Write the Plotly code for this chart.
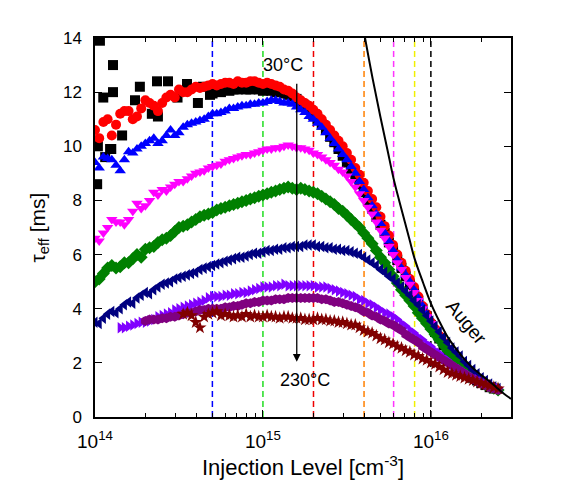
import math
import plotly.graph_objects as go

# Injection level grid (cm^-3), 40 points per decade
inj = [1.000e14, 1.059e14, 1.122e14, 1.189e14, 1.259e14, 1.334e14, 1.413e14, 1.496e14, 1.585e14, 1.679e14,
       1.778e14, 1.884e14, 1.995e14, 2.113e14, 2.239e14, 2.371e14, 2.512e14, 2.661e14, 2.818e14, 2.985e14,
       3.162e14, 3.350e14, 3.548e14, 3.758e14, 3.981e14, 4.217e14, 4.467e14, 4.732e14, 5.012e14, 5.309e14,
       5.623e14, 5.957e14, 6.310e14, 6.683e14, 7.079e14, 7.499e14, 7.943e14, 8.414e14, 8.913e14, 9.441e14,
       1.000e15, 1.059e15, 1.122e15, 1.189e15, 1.259e15, 1.334e15, 1.413e15, 1.496e15, 1.585e15, 1.679e15,
       1.778e15, 1.884e15, 1.995e15, 2.113e15, 2.239e15, 2.371e15, 2.512e15, 2.661e15, 2.818e15, 2.985e15,
       3.162e15, 3.350e15, 3.548e15, 3.758e15, 3.981e15, 4.217e15, 4.467e15, 4.732e15, 5.012e15, 5.309e15,
       5.623e15, 5.957e15, 6.310e15, 6.683e15, 7.079e15, 7.499e15, 7.943e15, 8.414e15, 8.913e15, 9.441e15,
       1.000e16, 1.059e16, 1.122e16, 1.189e16, 1.259e16, 1.334e16, 1.413e16, 1.496e16, 1.585e16, 1.679e16,
       1.778e16, 1.884e16, 1.995e16, 2.113e16, 2.239e16, 2.371e16, 2.512e16]

# black squares: scattered points at low injection, then a dense band on the grid
black_scatter_n = [1.03e14, 1.03e14, 1.04e14, 1.07e14, 1.12e14, 1.15e14, 1.23e14, 1.25e14, 1.28e14, 1.28e14,
                   1.45e14, 1.73e14, 1.85e14, 2.18e14, 2.34e14, 2.37e14, 2.72e14, 3.10e14, 3.53e14, 4.10e14,
                   4.39e14, 4.84e14]
black_scatter_tau = [8.6, 10.05, 10.0, 13.9, 11.8, 9.6, 9.9, 9.9, 12.0, 13.0,
                     10.4, 11.7, 12.2, 11.2, 12.4, 11.1, 12.4, 11.8, 12.3, 11.6,
                     12.2, 11.9]
black_band_tau = [11.95, 12.05, 12.0, 12.1, 12.05, 12.1, 12.1, 12.15, 12.1, 12.1, 12.15, 12.1,
                  12.05, 12.1, 12.05, 12.0, 12.0, 11.95, 11.9, 11.85, 11.75, 11.6, 11.5, 11.35, 11.15, 11.0,
                  10.8, 10.6, 10.35, 10.15, 9.9, 9.65,
                  9.4, 9.15, 8.85, 8.6, 8.3, 8.0, 7.7, 7.4, 7.1, 6.8, 6.45, 6.15, 5.8, 5.5, 5.2, 4.9,
                  4.6, 4.3, 4.0, 3.7,
                  3.4, 3.15, 2.9, 2.65, 2.45, 2.25, 2.05, 1.9, 1.75, 1.6, 1.45, 1.35, 1.25, 1.18, 1.1, 1.05]

red_tau = [10.6, 10.3, 10.9, 11.0, 10.4, 10.8, 11.2, 11.3, 11.3, 11.0, 11.1, 11.4, 11.7, 11.6, 11.5, 11.3, 11.6, 11.8, 11.9, 11.8,
           12.1, 12.0, 12.0, 12.1, 12.2, 12.15, 12.2, 12.25, 12.3, 12.25, 12.3, 12.35, 12.35, 12.3, 12.4, 12.35, 12.35, 12.4, 12.4, 12.35,
           12.3, 12.35, 12.3, 12.25, 12.2, 12.1, 12.05, 11.95, 11.8, 11.7, 11.6, 11.5, 11.35, 11.2, 11.0, 10.8, 10.6, 10.4, 10.2, 10.0,
           9.75, 9.5, 9.2, 8.95, 8.65, 8.35, 8.05, 7.75, 7.4, 7.05, 6.7, 6.35, 6.0, 5.7, 5.4, 5.1, 4.8, 4.45, 4.1, 3.8,
           3.5, 3.25, 3.0, 2.75, 2.5, 2.3, 2.1, 1.95, 1.8, 1.65, 1.5, 1.38, 1.25, 1.18, 1.1, 1.05, 1.0]

blue_tau = [9.4, 9.2, 9.6, 9.55, 9.5, 9.3, 9.1, 9.5, 9.8, 9.75, 9.9, 10.0, 10.1, 10.2, 10.3, 10.1, 10.2, 10.4, 10.6, 10.4,
            10.5, 10.7, 10.8, 10.85, 10.9, 10.95, 11.0, 11.1, 11.2, 11.2, 11.25, 11.3, 11.4, 11.4, 11.45, 11.5, 11.5, 11.55, 11.55, 11.6,
            11.6, 11.65, 11.7, 11.7, 11.65, 11.6, 11.6, 11.55, 11.45, 11.35, 11.25, 11.1, 11.0, 10.85, 10.7, 10.5, 10.3, 10.1, 9.9, 9.7,
            9.5, 9.25, 9.0, 8.7, 8.4, 8.1, 7.8, 7.5, 7.15, 6.8, 6.5, 6.15, 5.8, 5.5, 5.25, 5.0, 4.7, 4.4, 4.1, 3.8,
            3.5, 3.25, 3.0, 2.75, 2.5, 2.3, 2.1, 1.95, 1.8, 1.65, 1.5, 1.4, 1.3, 1.2, 1.12, 1.06, 1.0]

magenta_tau = [6.6, 6.5, 6.8, 7.0, 7.3, 7.2, 7.2, 7.1, 7.3, 7.6, 7.9, 7.7, 7.8, 8.0, 8.3, 8.2, 8.4, 8.35, 8.5, 8.6,
               8.7, 8.7, 8.8, 8.9, 9.0, 9.05, 9.1, 9.2, 9.25, 9.3, 9.35, 9.45, 9.5, 9.55, 9.6, 9.65, 9.7, 9.7, 9.75, 9.8,
               9.85, 9.9, 9.9, 9.95, 9.95, 10.0, 10.05, 10.0, 9.95, 9.95, 9.9, 9.85, 9.75, 9.7, 9.6, 9.5, 9.4, 9.3, 9.15, 9.05,
               8.9, 8.7, 8.5, 8.25, 8.0, 7.75, 7.5, 7.2, 6.9, 6.6, 6.3, 6.0, 5.7, 5.45, 5.15, 4.9, 4.6, 4.3, 4.0, 3.7,
               3.45, 3.2, 2.95, 2.7, 2.5, 2.3, 2.1, 1.95, 1.8, 1.65, 1.5, 1.4, 1.3, 1.2, 1.12, 1.06, 1.0]

green_tau = [5.0, 5.1, 5.3, 5.5, 5.6, 5.5, 5.55, 5.7, 5.7, 5.85, 6.0, 5.9, 6.2, 6.25, 6.3, 6.45, 6.55, 6.6, 6.7, 6.85,
             7.0, 7.05, 7.1, 7.2, 7.3, 7.4, 7.45, 7.5, 7.55, 7.65, 7.7, 7.75, 7.8, 7.85, 7.9, 7.95, 8.0, 8.05, 8.1, 8.15,
             8.2, 8.25, 8.3, 8.35, 8.4, 8.45, 8.5, 8.45, 8.4, 8.45, 8.4, 8.35, 8.3, 8.25, 8.15, 8.05, 7.95, 7.85, 7.7, 7.6,
             7.45, 7.3, 7.15, 7.0, 6.8, 6.6, 6.4, 6.15, 5.9, 5.7, 5.45, 5.2, 4.95, 4.7, 4.5, 4.3, 4.1, 3.85, 3.65, 3.45,
             3.25, 3.05, 2.85, 2.65, 2.45, 2.3, 2.1, 1.95, 1.75, 1.62, 1.5, 1.4, 1.3, 1.2, 1.12, 1.06, 1.0]

navy_tau = [3.5, 3.45, 3.65, 3.8, 3.9, 3.85, 4.0, 4.15, 4.25, 4.2, 4.4, 4.5, 4.6, 4.55, 4.7, 4.8, 4.9, 4.95, 5.0, 5.1,
            5.15, 5.2, 5.25, 5.3, 5.35, 5.45, 5.5, 5.55, 5.6, 5.65, 5.7, 5.75, 5.8, 5.85, 5.9, 5.9, 5.95, 6.0, 6.05, 6.05,
            6.1, 6.15, 6.15, 6.2, 6.2, 6.25, 6.25, 6.3, 6.3, 6.3, 6.35, 6.35, 6.35, 6.3, 6.3, 6.25, 6.25, 6.2, 6.2, 6.15,
            6.15, 6.1, 6.05, 6.0, 5.9, 5.8, 5.7, 5.6, 5.45, 5.35, 5.2, 5.1, 4.95, 4.8, 4.65, 4.5, 4.3, 4.15, 3.95, 3.75,
            3.55, 3.35, 3.15, 2.95, 2.75, 2.55, 2.4, 2.25, 2.05, 1.9, 1.75, 1.6, 1.45, 1.35, 1.22, 1.12, 1.05]

violet_tau = [None, None, None, None, None, None,
              3.3, 3.3, 3.35, 3.4, 3.45, 3.5, 3.5, 3.55, 3.6, 3.7, 3.75, 3.8, 3.85, 3.95,
              4.0, 4.05, 4.1, 4.15, 4.2, 4.25, 4.3, 4.4, 4.45, 4.45, 4.45, 4.5, 4.5, 4.55, 4.55, 4.6, 4.6, 4.65, 4.7, 4.75,
              4.8, 4.8, 4.8, 4.85, 4.85, 4.9, 4.85, 4.85, 4.85, 4.85, 4.85, 4.85, 4.85, 4.8, 4.8, 4.8, 4.75, 4.7, 4.65, 4.6,
              4.55, 4.5, 4.45, 4.35, 4.3, 4.2, 4.15, 4.05, 3.95, 3.85, 3.8, 3.7, 3.6, 3.45, 3.35, 3.2, 3.1, 2.95, 2.85, 2.7,
              2.6, 2.45, 2.35, 2.2, 2.1, 1.95, 1.85, 1.75, 1.65, 1.55, 1.45, 1.38, 1.3, 1.22, 1.15, 1.1, 1.05]

purple_tau = [None, None, None, None, None, None, None, None, None, None, None, None,
              3.55, 3.6, 3.6, 3.6, 3.65, 3.65, 3.7, 3.7,
              3.75, 3.8, 3.85, 3.85, 3.9, 3.95, 3.95, 4.0, 4.0, 4.0, 4.0, 4.05, 4.05, 4.1, 4.1, 4.15, 4.2, 4.2, 4.25, 4.25,
              4.3, 4.3, 4.3, 4.35, 4.35, 4.35, 4.4, 4.4, 4.4, 4.4, 4.4, 4.4, 4.4, 4.4, 4.35, 4.35, 4.3, 4.25, 4.25, 4.2,
              4.15, 4.1, 4.05, 4.0, 3.9, 3.85, 3.75, 3.7, 3.6, 3.55, 3.45, 3.4, 3.3, 3.2, 3.05, 2.95, 2.85, 2.75, 2.6, 2.5,
              2.4, 2.3, 2.2, 2.1, 2.0, 1.9, 1.8, 1.7, 1.6, 1.5, 1.4, 1.32, 1.25, 1.18, 1.1, 1.05, 1.0]

wine_tau = [None, None, None, None, None, None, None, None, None, None,
            None, None, None, None, None, None, None, None, None, None, None,
            3.8, 3.85, 3.75, 3.5, 3.3, 3.7, 3.8, 3.85, 3.9, 3.75, 3.8, 3.75, 3.7, 3.75, 3.7, 3.8, 3.7, 3.75, 3.7,
            3.7, 3.75, 3.7, 3.7, 3.65, 3.7, 3.7, 3.65, 3.65, 3.65, 3.6, 3.6, 3.6, 3.65, 3.6, 3.6, 3.55, 3.55, 3.5, 3.5,
            3.45, 3.4, 3.4, 3.3, 3.2, 3.15, 3.1, 3.0, 2.9, 2.85, 2.75, 2.7, 2.6, 2.55, 2.45, 2.4, 2.3, 2.25, 2.15, 2.1,
            2.0, 1.95, 1.85, 1.75, 1.65, 1.6, 1.55, 1.5, 1.45, 1.4, 1.35, 1.3, 1.25, 1.2, 1.15, 1.1, 1.05]

# Auger limit curve
auger_n = [4.0e15, 4.5e15, 5.0e15, 5.5e15, 6.0e15, 6.5e15, 7.0e15, 7.5e15, 8.0e15, 9.0e15,
           1.0e16, 1.13e16, 1.26e16, 1.4e16, 1.55e16, 1.75e16, 1.95e16, 2.2e16, 2.45e16, 2.7e16, 3.0e16]
auger_tau = [14.2, 12.5, 11.1, 9.9, 8.8, 7.95, 7.2, 6.5, 5.85, 4.95,
             4.2, 3.5, 2.95, 2.55, 2.2, 1.85, 1.6, 1.35, 1.1, 0.88, 0.67]

# Vertical dashed reference lines
vline_n = [5e14, 1e15, 2e15, 4e15, 6e15, 8e15, 1e16]
vline_colors = ["#0000FF", "#22DD22", "#EE0000", "#FF8000", "#FF33FF", "#F0F000", "#000000"]

black_n = black_scatter_n + inj[28:28 + len(black_band_tau)]
black_tau = black_scatter_tau + black_band_tau

series = [
    ("30°C", black_n, black_tau, "square", "#000000"),
    ("s2", inj, red_tau, "circle", "#FF0000"),
    ("s3", inj, blue_tau, "triangle-up", "#0000FF"),
    ("s4", inj, magenta_tau, "triangle-down", "#FF00FF"),
    ("s5", inj, green_tau, "diamond", "#008000"),
    ("s6", inj, navy_tau, "triangle-left", "#000080"),
    ("s7", inj, violet_tau, "triangle-right", "#8000FF"),
    ("s8", inj, purple_tau, "hexagon", "#800080"),
    ("230°C", inj, wine_tau, "star", "#800000"),
]

FONT = "Liberation Sans, Arial, sans-serif"

fig = go.Figure()

for n, c in zip(vline_n, vline_colors):
    fig.add_trace(go.Scatter(x=[n, n], y=[0, 14], mode="lines",
                             line=dict(color=c, width=1.5, dash="6px,4px"),
                             hoverinfo="skip", showlegend=False))

for name, xs, ys, sym, col in series:
    fig.add_trace(go.Scatter(x=xs, y=ys, mode="markers", name=name,
                             marker=dict(symbol=sym, size=10, color=col, line=dict(width=0)),
                             showlegend=False))

fig.add_trace(go.Scatter(x=auger_n, y=auger_tau, mode="lines", line=dict(color="black", width=2, shape="spline"),
                         showlegend=False))

arrow_n = 1.59e15
fig.add_annotation(x=math.log10(arrow_n), y=2.04, ax=math.log10(arrow_n), ay=12.37,
                   xref="x", yref="y", axref="x", ayref="y", text="",
                   showarrow=True, arrowhead=2, arrowsize=1.2, arrowwidth=1.3, arrowcolor="black")
fig.add_annotation(x=math.log10(1.32e15), y=13.0, text="30°C", showarrow=False,
                   font=dict(family=FONT, size=18, color="black"))
fig.add_annotation(x=math.log10(1.78e15), y=1.37, text="230°C", showarrow=False,
                   font=dict(family=FONT, size=18, color="black"))
fig.add_annotation(x=math.log10(1.64e16), y=3.5, text="Auger", showarrow=False, textangle=50,
                   font=dict(family=FONT, size=19, color="black"))

minor_vals = [m * 10 ** e for e in (14, 15, 16) for m in range(2, 10) if m * 10 ** e <= 3e16]

fig.update_layout(
    width=561, height=482,
    margin=dict(l=95, r=50, t=38, b=65),
    paper_bgcolor="white", plot_bgcolor="white",
    font=dict(family=FONT, color="black"),
    showlegend=False,
    xaxis=dict(type="log", range=[14, math.log10(3e16)],
               tickvals=[1e14, 1e15, 1e16], ticktext=["10<sup>14</sup>", "10<sup>15</sup>", "10<sup>16</sup>"],
               ticks="inside", ticklen=7, tickwidth=1.3, tickcolor="black",
               minor=dict(tickvals=minor_vals, ticks="inside", ticklen=4, tickwidth=1.2, tickcolor="black"),
               showline=True, linecolor="black", linewidth=1.5, mirror="ticks",
               showgrid=False, zeroline=False,
               tickfont=dict(size=19), ticklabelstandoff=6,
               title=dict(text="Injection Level [cm<sup>-3</sup>]", font=dict(size=22), standoff=4)),
    yaxis=dict(range=[0, 14], tickvals=[0, 2, 4, 6, 8, 10, 12, 14],
               ticks="inside", ticklen=7, tickwidth=1.3, tickcolor="black",
               showline=True, linecolor="black", linewidth=1.5, mirror="ticks",
               showgrid=False, zeroline=False,
               tickfont=dict(size=17), ticklabelstandoff=8,
               title=dict(text="τ<sub>eff</sub> [ms]", font=dict(size=21), standoff=12)),
)

fig.write_html("out.html")
